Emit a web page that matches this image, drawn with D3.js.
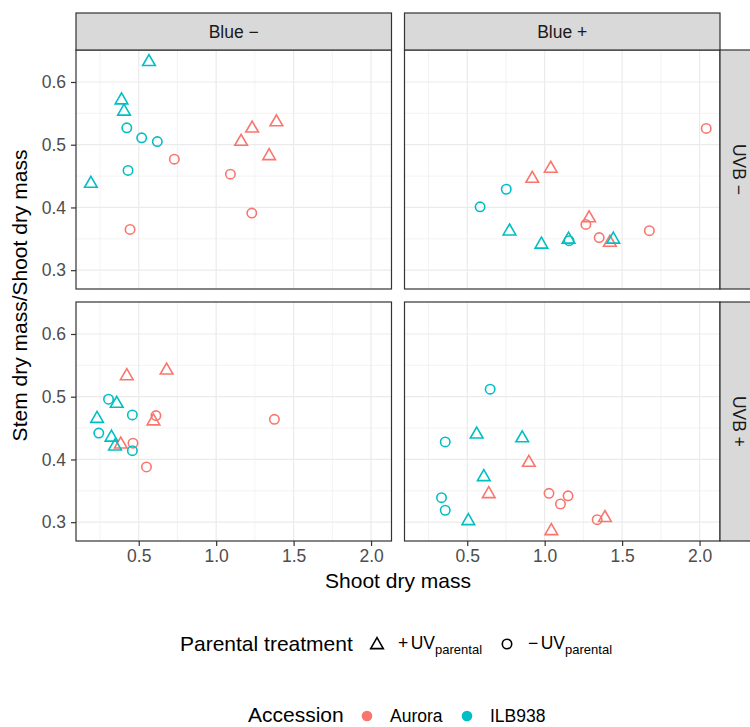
<!DOCTYPE html>
<html lang="en">
  <head>
    <meta charset="utf-8">
    <script src="https://d3js.org/d3.v7.min.js"></script>
    <style>
      body { margin: 0; background: #fff; }
      text { font-family: "Liberation Sans", Arial, Helvetica, sans-serif; }
    </style>
  </head>
  <body>
    <div id="chart">
      <svg width="750" height="727"></svg>
    </div>
    <script type="text/javascript">
      // Facet labels
      var blueLevels = ["Blue \u2212", "Blue +"];
      var uvbLevels = ["UVB \u2212", "UVB +"];
      var accessions = ["Aurora", "ILB938"];
      var xTicks = [0.5, 1.0, 1.5, 2.0];
      var yTicks = [0.3, 0.4, 0.5, 0.6];

      // Points per panel: [shoot dry mass, stem/shoot ratio, accession, parental] (T = +UV, C = -UV)
      var blueMinusUvbMinus = [
        [0.566, 0.632, "ILB938", "T"], [0.389, 0.571, "ILB938", "T"], [0.405, 0.553, "ILB938", "T"],
        [0.191, 0.438, "ILB938", "T"],
        [0.423, 0.527, "ILB938", "C"], [0.519, 0.511, "ILB938", "C"], [0.620, 0.505, "ILB938", "C"],
        [0.431, 0.459, "ILB938", "C"],
        [0.730, 0.477, "Aurora", "C"], [1.092, 0.453, "Aurora", "C"], [1.230, 0.391, "Aurora", "C"],
        [0.444, 0.365, "Aurora", "C"],
        [1.161, 0.505, "Aurora", "T"], [1.232, 0.526, "Aurora", "T"], [1.389, 0.536, "Aurora", "T"],
        [1.342, 0.482, "Aurora", "T"]
      ];
      var bluePlusUvbMinus = [
        [2.043, 0.526, "Aurora", "C"], [1.266, 0.373, "Aurora", "C"], [1.352, 0.352, "Aurora", "C"],
        [1.676, 0.363, "Aurora", "C"],
        [1.039, 0.462, "Aurora", "T"], [0.920, 0.446, "Aurora", "T"], [1.287, 0.383, "Aurora", "T"],
        [1.421, 0.344, "Aurora", "T"],
        [0.752, 0.429, "ILB938", "C"], [0.583, 0.401, "ILB938", "C"], [1.157, 0.347, "ILB938", "C"],
        [0.773, 0.362, "ILB938", "T"], [0.979, 0.341, "ILB938", "T"], [1.154, 0.349, "ILB938", "T"],
        [1.443, 0.349, "ILB938", "T"]
      ];
      var blueMinusUvbPlus = [
        [0.423, 0.533, "Aurora", "T"], [0.680, 0.542, "Aurora", "T"], [0.595, 0.461, "Aurora", "T"],
        [0.384, 0.424, "Aurora", "T"],
        [0.611, 0.470, "Aurora", "C"], [1.376, 0.464, "Aurora", "C"], [0.463, 0.426, "Aurora", "C"],
        [0.550, 0.388, "Aurora", "C"],
        [0.305, 0.496, "ILB938", "C"], [0.459, 0.471, "ILB938", "C"], [0.242, 0.442, "ILB938", "C"],
        [0.459, 0.414, "ILB938", "C"],
        [0.358, 0.489, "ILB938", "T"], [0.231, 0.465, "ILB938", "T"], [0.324, 0.435, "ILB938", "T"],
        [0.347, 0.421, "ILB938", "T"]
      ];
      var bluePlusUvbPlus = [
        [0.648, 0.512, "ILB938", "C"], [0.358, 0.428, "ILB938", "C"], [0.334, 0.339, "ILB938", "C"],
        [0.358, 0.319, "ILB938", "C"],
        [0.561, 0.440, "ILB938", "T"], [0.855, 0.434, "ILB938", "T"], [0.607, 0.372, "ILB938", "T"],
        [0.507, 0.302, "ILB938", "T"],
        [0.898, 0.395, "Aurora", "T"], [0.639, 0.345, "Aurora", "T"], [1.043, 0.286, "Aurora", "T"],
        [1.389, 0.307, "Aurora", "T"],
        [1.028, 0.346, "Aurora", "C"], [1.151, 0.342, "Aurora", "C"], [1.102, 0.329, "Aurora", "C"],
        [1.339, 0.304, "Aurora", "C"]
      ];
      var panels = [
        {col: 0, row: 0, points: blueMinusUvbMinus},
        {col: 1, row: 0, points: bluePlusUvbMinus},
        {col: 0, row: 1, points: blueMinusUvbPlus},
        {col: 1, row: 1, points: bluePlusUvbPlus}
      ];

      var svg = d3.select("svg");
      var colour = d3.scaleOrdinal().domain(accessions).range(["#F8766D", "#00BFC4"]);

      // Layout
      var colX = [76, 404.5], panelW = 315.5;
      var rowY = [50, 302], panelH = 239;
      var stripSize = 37;

      var xScale = d3.scaleLinear().domain([0.095, 2.132]).range([0, panelW]);
      var yScale = d3.scaleLinear().domain([0.270, 0.651]).range([panelH, 0]);
      var xMinor = [0.25, 0.75, 1.25, 1.75];
      var yMinor = [0.35, 0.45, 0.55];

      // Circle radius and R-style triangle
      var R = 4.7;
      function triangle(r) {
        var top = 1.5551 * r, half = 1.3468 * r, base = 0.7776 * r;
        return "M0," + (-top) + "L" + half + "," + base + "L" + (-half) + "," + base + "Z";
      }

      panels.forEach(function(p) {
        var g = svg.append("g")
          .attr("transform", "translate(" + colX[p.col] + "," + rowY[p.row] + ")");
        g.append("rect").attr("width", panelW).attr("height", panelH).attr("fill", "#fff");
        // grid
        g.selectAll(".xminor").data(xMinor).enter().append("line")
          .attr("x1", xScale).attr("x2", xScale).attr("y1", 0).attr("y2", panelH)
          .attr("stroke", "#EBEBEB").attr("stroke-width", 0.6);
        g.selectAll(".yminor").data(yMinor).enter().append("line")
          .attr("y1", yScale).attr("y2", yScale).attr("x1", 0).attr("x2", panelW)
          .attr("stroke", "#EBEBEB").attr("stroke-width", 0.6);
        g.selectAll(".xmajor").data(xTicks).enter().append("line")
          .attr("x1", xScale).attr("x2", xScale).attr("y1", 0).attr("y2", panelH)
          .attr("stroke", "#EBEBEB").attr("stroke-width", 1.2);
        g.selectAll(".ymajor").data(yTicks).enter().append("line")
          .attr("y1", yScale).attr("y2", yScale).attr("x1", 0).attr("x2", panelW)
          .attr("stroke", "#EBEBEB").attr("stroke-width", 1.2);

        // points
        p.points.forEach(function(d) {
          var cx = xScale(d[0]), cy = yScale(d[1]);
          if (d[3] === "C") {
            g.append("circle").attr("cx", cx).attr("cy", cy).attr("r", R)
              .attr("fill", "none").attr("stroke", colour(d[2])).attr("stroke-width", 1.6);
          } else {
            g.append("path").attr("d", triangle(R))
              .attr("transform", "translate(" + cx + "," + cy + ")")
              .attr("fill", "none").attr("stroke", colour(d[2])).attr("stroke-width", 1.6);
          }
        });

        g.append("rect").attr("width", panelW).attr("height", panelH)
          .attr("fill", "none").attr("stroke", "#333333").attr("stroke-width", 1.2);

        // axes
        if (p.col === 0) {
          var ya = g.append("g").call(d3.axisLeft(yScale).tickValues(yTicks)
            .tickFormat(d3.format(".1f")).tickSize(5).tickPadding(5));
          styleAxis(ya);
        }
        if (p.row === 1) {
          var xa = g.append("g").attr("transform", "translate(0," + panelH + ")")
            .call(d3.axisBottom(xScale).tickValues(xTicks)
            .tickFormat(d3.format(".1f")).tickSize(5).tickPadding(4));
          styleAxis(xa);
        }
      });

      function styleAxis(a) {
        a.select(".domain").remove();
        a.selectAll("line").attr("stroke", "#333333").attr("stroke-width", 1.2);
        a.selectAll("text").attr("fill", "#4D4D4D").style("font-size", "17.5px")
          .style("font-family", "'Liberation Sans', Arial, sans-serif");
      }

      // Top strips
      blueLevels.forEach(function(lab, i) {
        svg.append("rect").attr("x", colX[i]).attr("y", rowY[0] - stripSize)
          .attr("width", panelW).attr("height", stripSize)
          .attr("fill", "#D9D9D9").attr("stroke", "#333333").attr("stroke-width", 1.2);
        svg.append("text").attr("x", colX[i] + panelW / 2).attr("y", rowY[0] - stripSize / 2)
          .attr("text-anchor", "middle").attr("dominant-baseline", "central")
          .attr("fill", "#1A1A1A").style("font-size", "17.5px").text(lab);
      });
      // Right strips
      uvbLevels.forEach(function(lab, i) {
        var sx = colX[1] + panelW;
        svg.append("rect").attr("x", sx).attr("y", rowY[i])
          .attr("width", stripSize).attr("height", panelH)
          .attr("fill", "#D9D9D9").attr("stroke", "#333333").attr("stroke-width", 1.2);
        svg.append("text")
          .attr("transform", "translate(" + (sx + stripSize / 2) + "," + (rowY[i] + panelH / 2) + ") rotate(90)")
          .attr("text-anchor", "middle").attr("dominant-baseline", "central")
          .attr("fill", "#1A1A1A").style("font-size", "17.5px").text(lab);
      });

      // Axis titles
      svg.append("text").attr("x", (colX[0] + colX[1] + panelW) / 2).attr("y", 588)
        .attr("text-anchor", "middle").style("font-size", "21px").text("Shoot dry mass");
      svg.append("text")
        .attr("transform", "translate(27," + (rowY[0] + (rowY[1] + panelH - rowY[0]) / 2) + ") rotate(-90)")
        .attr("text-anchor", "middle").style("font-size", "21px").text("Stem dry mass/Shoot dry mass");

      // Legend: parental treatment
      var leg1 = svg.append("g");
      leg1.append("text").attr("x", 180).attr("y", 651).style("font-size", "21px").text("Parental treatment");
      leg1.append("path").attr("d", triangle(R)).attr("transform", "translate(377,645)")
        .attr("fill", "none").attr("stroke", "#000").attr("stroke-width", 1.6);
      leg1.append("circle").attr("cx", 507).attr("cy", 644).attr("r", R)
        .attr("fill", "none").attr("stroke", "#000").attr("stroke-width", 1.6);
      function uvLabel(x, sign) {
        var t = leg1.append("text").attr("x", x).attr("y", 649).style("font-size", "17.5px");
        t.append("tspan").text(sign);
        t.append("tspan").attr("dx", 2.5).text("UV");
        t.append("tspan").attr("dy", 5).style("font-size", "13px").text("parental");
      }
      uvLabel(398, "+");
      uvLabel(528, "\u2212");

      // Legend: accession
      var leg2 = svg.append("g");
      leg2.append("text").attr("x", 248).attr("y", 722).style("font-size", "21px").text("Accession");
      var accX = [367, 467];
      accessions.forEach(function(a, i) {
        leg2.append("circle").attr("cx", accX[i]).attr("cy", 716).attr("r", 5.3).attr("fill", colour(a));
        leg2.append("text").attr("x", accX[i] + 23).attr("y", 722).style("font-size", "17.5px").text(a);
      });
    </script>
  </body>
</html>
